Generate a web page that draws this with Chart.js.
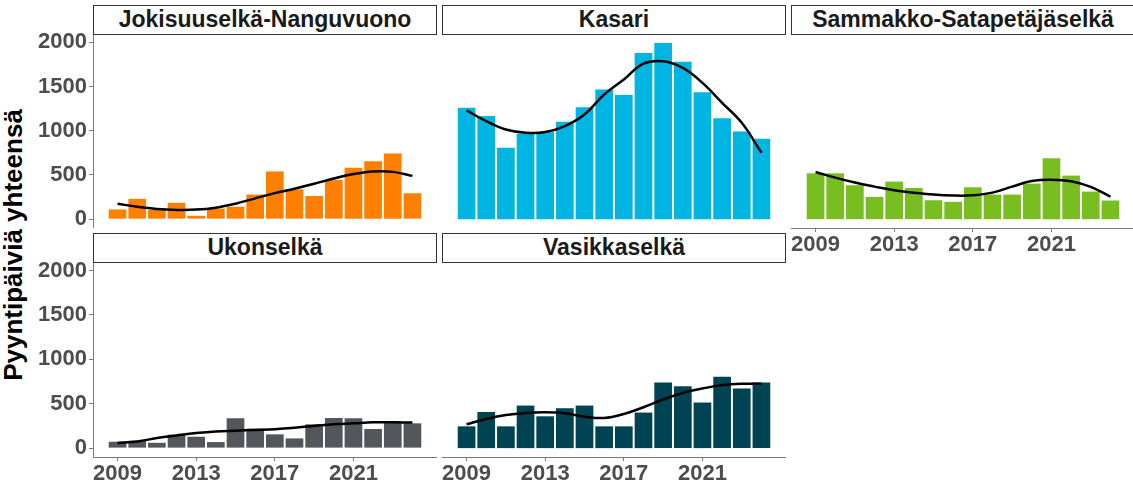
<!DOCTYPE html>
<html>
<head>
<meta charset="utf-8">
<script src="https://cdn.jsdelivr.net/npm/chart.js@4.4.1/dist/chart.umd.min.js"></script>
<style>
  body { margin: 0; background: #fff; }
  #page { position: relative; width: 1133px; height: 485px; overflow: hidden; font-family: "Liberation Sans", Arial, sans-serif; }
  .strip { position: absolute; box-sizing: border-box; height: 30px; border: 1px solid #333; background: #fff;
           font-weight: bold; font-size: 23px; color: #1a1a1a; text-align: center; line-height: 27px; white-space: nowrap; overflow: hidden; }
  canvas { position: absolute; display: block; }
  #ytitle { position: absolute; left: 13px; top: 245px; transform: translate(-50%, -50%) rotate(-90deg);
            font-weight: bold; font-size: 26px; color: #000; white-space: nowrap; }
</style>
</head>
<body>
<div id="page">
  <div id="ytitle">Pyyntipäiviä yhteensä</div>
</div>
<script>
// Years on the x axis
const years = [2009, 2010, 2011, 2012, 2013, 2014, 2015, 2016, 2017, 2018, 2019, 2020, 2021, 2022, 2023, 2024];
const xTicks = [2009, 2013, 2017, 2021];
const yTicks = [0, 500, 1000, 1500, 2000];

// Pyyntipäivät per area (bars) and the smoothed trend (line)
const jokisuuBars  = [110, 230, 105, 185, 38, 120, 140, 278, 540, 338, 263, 444, 583, 654, 744, 293];
const jokisuuTrend = [175, 140, 115, 105, 108, 130, 175, 235, 295, 345, 400, 460, 510, 540, 535, 490];

const kasariBars  = [1260, 1166, 808, 966, 985, 1102, 1267, 1466, 1406, 1880, 1993, 1782, 1436, 1143, 993, 910];
const kasariTrend = [1230, 1109, 1015, 978, 985, 1053, 1184, 1410, 1580, 1760, 1786, 1711, 1542, 1316, 1090, 752];

const sammakkoBars  = [519, 519, 384, 252, 425, 353, 214, 196, 361, 278, 278, 402, 688, 493, 312, 211];
const sammakkoTrend = [534, 470, 414, 368, 327, 300, 278, 267, 270, 300, 368, 432, 447, 429, 365, 256];

const ukonBars  = [72, 83, 60, 151, 128, 68, 336, 219, 155, 109, 268, 339, 336, 215, 305, 279];
const ukonTrend = [57, 75, 113, 143, 170, 188, 196, 204, 211, 230, 249, 268, 279, 290, 290, 287];

const vasikkaBars  = [245, 407, 245, 479, 358, 449, 479, 245, 245, 400, 739, 697, 513, 803, 671, 739];
const vasikkaTrend = [268, 328, 373, 396, 403, 392, 354, 339, 384, 460, 547, 622, 671, 709, 724, 724];

const panels = [
  { title: 'Jokisuuselkä-Nanguvuono', bars: jokisuuBars, trend: jokisuuTrend, color: '#FF8000', col: 0, row: 0, showX: false },
  { title: 'Kasari', bars: kasariBars, trend: kasariTrend, color: '#00B5E2', col: 1, row: 0, showX: false },
  { title: 'Sammakko-Satapetäjäselkä', bars: sammakkoBars, trend: sammakkoTrend, color: '#78BE20', col: 2, row: 0, showX: true },
  { title: 'Ukonselkä', bars: ukonBars, trend: ukonTrend, color: '#53565A', col: 0, row: 1, showX: true },
  { title: 'Vasikkaselkä', bars: vasikkaBars, trend: vasikkaTrend, color: '#004352', col: 1, row: 1, showX: true }
];

// facet layout
const colLeft = [93, 442, 791];
const rowTop = [34, 262];
const rowHeight = [194, 195];
const stripTop = [5, 233];
const plotW = 344, yAxisW = 93, xAxisH = 28, topPad = 12;

Chart.defaults.font.family = '"Liberation Sans", Arial, sans-serif';
const page = document.getElementById('page');
const axisColor = '#7a7a7a';
const tickFont = { size: 22, weight: 'bold' };

panels.forEach(function(p) {
  const showY = p.col === 0;
  const strip = document.createElement('div');
  strip.className = 'strip';
  strip.style.left = colLeft[p.col] + 'px';
  strip.style.top = stripTop[p.row] + 'px';
  strip.style.width = plotW + 'px';
  strip.textContent = p.title;

  const w = plotW + (showY ? yAxisW : 0);
  const h = topPad + rowHeight[p.row] + (p.showX ? xAxisH : 0);
  const canvas = document.createElement('canvas');
  canvas.width = w;
  canvas.height = h;
  canvas.style.width = w + 'px';
  canvas.style.height = h + 'px';
  canvas.style.left = (colLeft[p.col] - (showY ? yAxisW : 0)) + 'px';
  canvas.style.top = (rowTop[p.row] - topPad) + 'px';
  page.appendChild(canvas);
  page.appendChild(strip);

  new Chart(canvas.getContext('2d'), {
    type: 'bar',
    data: {
      datasets: [{
        type: 'line',
        data: years.map((y, i) => ({ x: y, y: p.trend[i] })),
        borderColor: '#000',
        borderWidth: 2.5,
        pointRadius: 0,
        tension: 0.4,
        fill: false,
        order: 0
      }, {
        type: 'bar',
        data: years.map((y, i) => ({ x: y, y: p.bars[i] })),
        backgroundColor: p.color,
        borderWidth: 0,
        barPercentage: 0.9,
        categoryPercentage: 1,
        order: 1
      }]
    },
    options: {
      responsive: false,
      maintainAspectRatio: false,
      animation: false,
      devicePixelRatio: 1,
      layout: { padding: { top: topPad, left: 0, right: 0, bottom: 0 } },
      plugins: { legend: { display: false }, tooltip: { enabled: false } },
      scales: {
        x: {
          type: 'linear',
          min: 2007.75,
          max: 2025.25,
          offset: false,
          display: p.showX,
          afterBuildTicks: function(scale) { scale.ticks = xTicks.map(v => ({ value: v })); },
          afterFit: function(scale) {
            if (p.showX) scale.height = xAxisH;
            scale.paddingLeft = 0; scale.paddingRight = 0;
          },
          grid: { drawOnChartArea: false, offset: false, tickLength: 4, color: axisColor },
          border: { display: true, color: axisColor, width: 1 },
          ticks: { color: '#4d4d4d', font: tickFont, padding: 0, maxRotation: 0, callback: v => String(v) }
        },
        y: {
          type: 'linear',
          min: -100,
          max: 2095,
          display: showY,
          afterBuildTicks: function(scale) { scale.ticks = yTicks.map(v => ({ value: v })); },
          afterFit: function(scale) {
            if (showY) scale.width = yAxisW;
            scale.paddingTop = 0; scale.paddingBottom = 0;
          },
          grid: { drawOnChartArea: false, tickLength: 4, color: axisColor },
          border: { display: true, color: axisColor, width: 1 },
          ticks: { color: '#4d4d4d', font: tickFont, padding: 2, callback: v => String(v) }
        }
      }
    }
  });
});
</script>
</body>
</html>
